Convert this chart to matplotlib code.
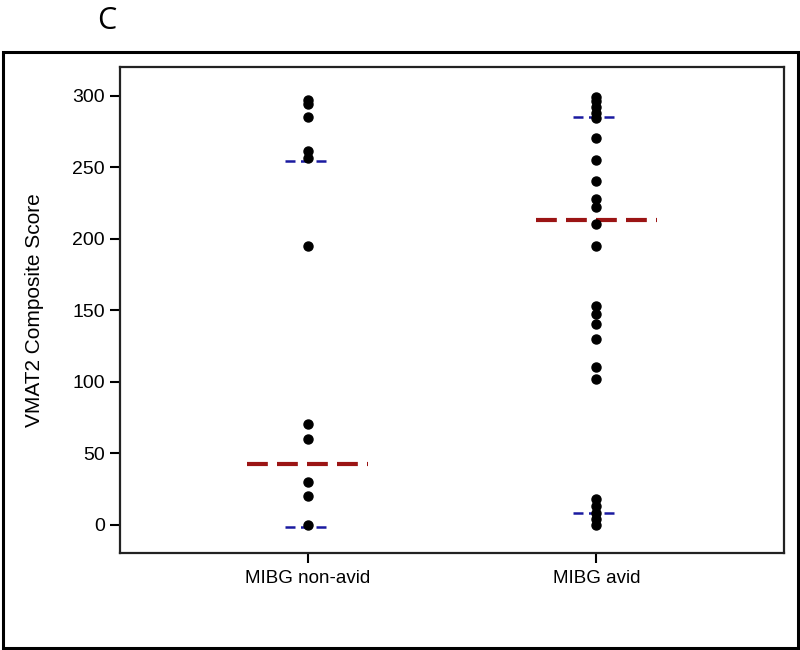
import matplotlib.pyplot as plt
from matplotlib.patches import Rectangle

plt.rcParams['font.family'] = ['Liberation Sans', 'DejaVu Sans']

# -----------------------------
# DATA
# -----------------------------
groups = ["MIBG non-avid", "MIBG avid"]
non_avid = [297, 294, 285, 261, 256, 195, 70, 60, 30, 20, 0]
avid = [299, 296, 292, 288, 284, 270, 255, 240, 228, 222, 210,
        195, 153, 147, 140, 130, 110, 102, 18, 13, 8, 4, 0]
centre_line = [42, 213]        # red dashed line
upper_line = [254, 285]        # blue dashed lines
lower_line = [-2, 8]

# -----------------------------
# PLOT
# -----------------------------
fig = plt.figure(figsize=(8, 6.5), dpi=100)
ax = fig.add_axes([0.15, 0.149, 0.83, 0.748])

for i, vals in enumerate([non_avid, avid]):
    x = i + 1
    ax.plot([x] * len(vals), vals, 'o', color='black', markersize=6.5, zorder=3)
    ax.plot([x - 0.21, x + 0.21], [centre_line[i]] * 2, color='#9b1414',
            linewidth=3, dashes=(5, 2.2), zorder=2)
    ax.plot([x - 0.08, x + 0.08], [upper_line[i]] * 2, color='#1a1aa0',
            linewidth=1.8, dashes=(4, 2.2), zorder=2)
    ax.plot([x - 0.08, x + 0.08], [lower_line[i]] * 2, color='#1a1aa0',
            linewidth=1.8, dashes=(4, 2.2), zorder=2)

ax.set_xlim(0.35, 2.65)
ax.set_ylim(-20, 320)
ax.set_xticks([1, 2])
ax.set_xticklabels(groups)
ax.set_yticks([0, 50, 100, 150, 200, 250, 300])
ax.tick_params(axis='y', labelsize=14, length=7, width=1.5, direction='out', pad=4)
ax.tick_params(axis='x', labelsize=13.5, length=7, width=1.5, direction='out', pad=5)
ax.set_ylabel("VMAT2 Composite Score", fontsize=15, labelpad=20)
for s in ax.spines.values():
    s.set_linewidth(1.6)
    s.set_color('#222222')

# outer frame and panel letter
fig.patches.append(Rectangle((0.004, 0.003), 0.994, 0.917, transform=fig.transFigure,
                             fill=False, edgecolor='black', linewidth=2.2))
fig.text(0.134, 0.968, "C", fontsize=22, family=['Open Sans', 'DejaVu Sans'],
         ha='center', va='center')

plt.savefig("out.png", dpi=100)
